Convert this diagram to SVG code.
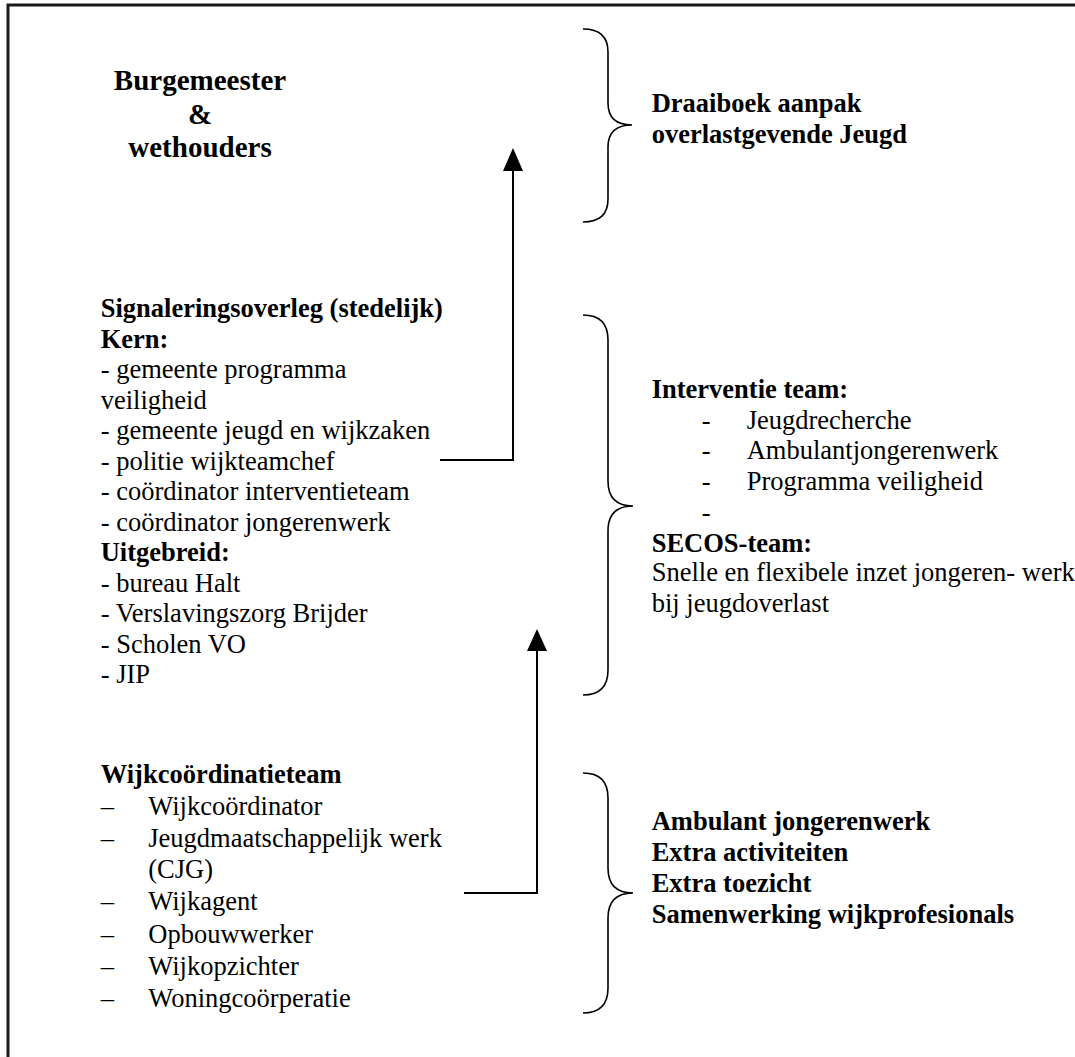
<svg xmlns="http://www.w3.org/2000/svg" width="1075" height="1057" viewBox="0 0 1075 1057">
<style>
text{font-family:"Liberation Serif","Times New Roman",serif;font-size:26.5px;fill:#000}
.b{font-weight:bold}
.t{font-size:29px;font-weight:bold}
.brace{fill:none;stroke:#000;stroke-width:1.6}
.conn{fill:none;stroke:#000;stroke-width:2}
.frame{fill:none;stroke:#1a1a1a;stroke-width:3}
</style>
<rect width="1075" height="1057" fill="#fff"/>
<path class="frame" d="M8,1057 V5 H1075"/>
<g id="burgemeester">
<text class="t" x="200" y="90" text-anchor="middle">Burgemeester</text>
<text class="t" x="200" y="123.5" text-anchor="middle">&amp;</text>
<text class="t" x="200" y="157" text-anchor="middle">wethouders</text>
</g>
<g id="draaiboek">
<path class="brace" d="M583,29 Q608,29 608,52 V103 Q608,125 632,125 Q608,125 608,147 V199 Q608,222 583,222"/>
<text class="b" x="651.7" y="111.5">Draaiboek aanpak</text>
<text class="b" x="651.7" y="142.5">overlastgevende Jeugd</text>
</g>
<g id="signaleringsoverleg">
<text class="b" x="100.7" y="317">Signaleringsoverleg (stedelijk)</text>
<text class="b" x="100.7" y="347.5">Kern:</text>
<text x="100.7" y="378">- gemeente programma</text>
<text x="100.7" y="408.5">veiligheid</text>
<text x="100.7" y="439">- gemeente jeugd en wijkzaken</text>
<text x="100.7" y="469.5">- politie wijkteamchef</text>
<text x="100.7" y="500">- coördinator interventieteam</text>
<text x="100.7" y="530.5">- coördinator jongerenwerk</text>
<text class="b" x="100.7" y="561">Uitgebreid:</text>
<text x="100.7" y="591.5">- bureau Halt</text>
<text x="100.7" y="622">- Verslavingszorg Brijder</text>
<text x="100.7" y="652.5">- Scholen VO</text>
<text x="100.7" y="683">- JIP</text>
</g>
<g id="interventie">
<path class="brace" d="M583,315 Q608,315 608,340 V481 Q608,506 633,506 Q608,506 608,531 V670 Q608,695 583,695"/>
<text class="b" x="651.7" y="398">Interventie team:</text>
<text x="701.7" y="428.5">-</text><text x="746.7" y="428.5">Jeugdrecherche</text>
<text x="701.7" y="459">-</text><text x="746.7" y="459">Ambulantjongerenwerk</text>
<text x="701.7" y="490">-</text><text x="746.7" y="490">Programma veiligheid</text>
<text x="701.7" y="520.5">-</text>
<text class="b" x="651.7" y="551.5">SECOS-team:</text>
<text x="651.7" y="581">Snelle en flexibele inzet jongeren- werk</text>
<text x="651.7" y="611.5">bij jeugdoverlast</text>
</g>
<g id="wijkcoordinatieteam">
<text class="b" x="100.7" y="783">Wijkcoördinatieteam</text>
<text x="100.7" y="815">–</text><text x="148.3" y="815">Wijkcoördinator</text>
<text x="100.7" y="846.7">–</text><text x="148.3" y="846.7">Jeugdmaatschappelijk werk</text>
<text x="148.3" y="878.3">(CJG)</text>
<text x="100.7" y="910">–</text><text x="148.3" y="910">Wijkagent</text>
<text x="100.7" y="942.5">–</text><text x="148.3" y="942.5">Opbouwwerker</text>
<text x="100.7" y="975">–</text><text x="148.3" y="975">Wijkopzichter</text>
<text x="100.7" y="1006.7">–</text><text x="148.3" y="1006.7">Woningcoörperatie</text>
</g>
<g id="wijkacties">
<path class="brace" d="M583,773 Q608,773 608,798 V868 Q608,893 633,893 Q608,893 608,918 V988 Q608,1013 583,1013"/>
<text class="b" x="651.7" y="830">Ambulant jongerenwerk</text>
<text class="b" x="651.7" y="861">Extra activiteiten</text>
<text class="b" x="651.7" y="892">Extra toezicht</text>
<text class="b" x="651.7" y="923">Samenwerking wijkprofesionals</text>
</g>
<g id="connectors">
<path class="conn" d="M440,460 H513 V170"/>
<polygon points="503,171 523,171 513,148" fill="#000"/>
<path class="conn" d="M464,893 H537 V650"/>
<polygon points="527,651 547,651 537,629" fill="#000"/>
</g>
</svg>
